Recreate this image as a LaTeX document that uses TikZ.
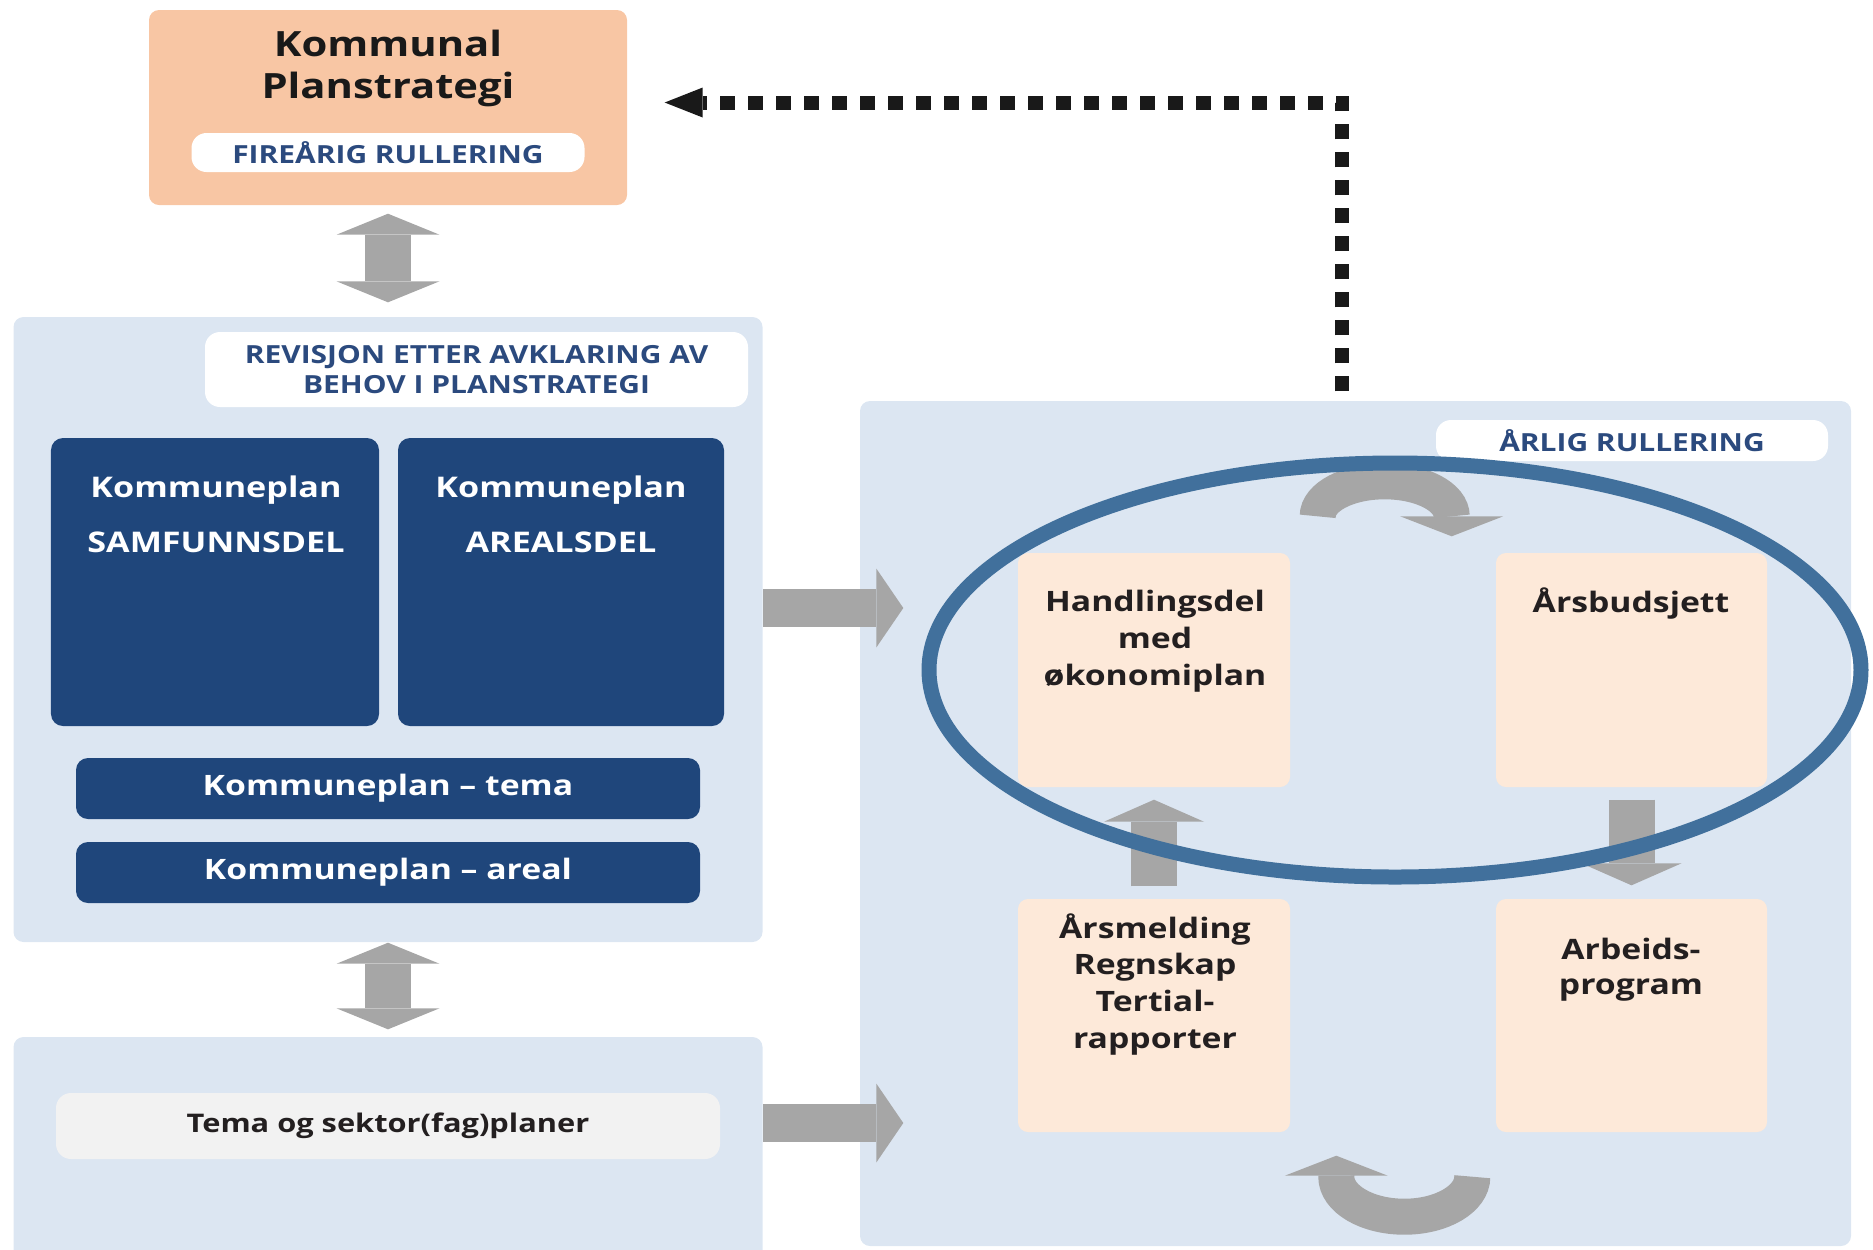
\documentclass[tikz,border=0pt]{standalone}
\usepackage{fontspec}
\setmainfont{Open Sans}[FakeStretch=1.2]
\usetikzlibrary{arrows.meta, shapes.geometric}
\definecolor{paleblue}{HTML}{DCE6F2}
\definecolor{navy}{HTML}{1F467B}
\definecolor{labelblue}{HTML}{2B4A7E}
\definecolor{peach}{HTML}{F8C6A4}
\definecolor{lightpeach}{HTML}{FDE9D9}
\definecolor{arrowgray}{HTML}{A6A6A6}
\definecolor{ringblue}{HTML}{41709C}
\definecolor{pillgray}{HTML}{F2F2F2}
\definecolor{ink}{HTML}{231F20}
\tikzset{%
	sz/.style 2 args = {minimum width = #1cm, minimum height = #2cm},
	outer/.style = {rectangle, fill = paleblue, rounded corners = 1mm, inner sep = 0pt},
	orange/.style = {rectangle, fill = peach, rounded corners = 1mm, inner sep = 0pt},
	dark/.style = {rectangle, fill = navy, rounded corners = 1.2mm, inner sep = 0pt},
	pale/.style = {rectangle, fill = lightpeach, rounded corners = 1mm, inner sep = 0pt},
	pill/.style = {rectangle, fill = white, rounded corners = 1.5mm, inner sep = 0pt, text = labelblue, align = center, font = \bfseries\fontsize{7.1}{8.6}\selectfont},
	plan/.style = {rectangle, fill = pillgray, rounded corners = 1.5mm, inner sep = 0pt, text = ink, font = \bfseries\fontsize{7.3}{9}\selectfont},
	bar/.style = {text = white, font = \bfseries\fontsize{8}{10}\selectfont},
	head/.style = {anchor = base, inner sep = 0pt, align = center, text = black!90, font = \bfseries\fontsize{9.9}{11.7}\selectfont},
	wtxt/.style = {anchor = base, inner sep = 0pt, align = center, text = white, font = \bfseries\fontsize{8.1}{15.6}\selectfont},
	btxt/.style = {anchor = base, inner sep = 0pt, align = center, text = ink, font = \bfseries\fontsize{8}{10.4}\selectfont},
	blk/.style = {draw = arrowgray, line width = 0.46cm, -{Triangle[width = 1cm, length = 0.22cm, line width = 0pt]}},
	dbl/.style = {draw = arrowgray, line width = 0.46cm, {Triangle[width = 1.03cm, length = 0.21cm, line width = 0pt]}-{Triangle[width = 1.03cm, length = 0.21cm, line width = 0pt]}},
	side/.style = {draw = arrowgray, line width = 0.38cm, -{Triangle[width = 0.79cm, length = 0.27cm, line width = 0pt]}},
	curv/.style = {draw = arrowgray, line width = 0.36cm, -{Triangle[width = 1.03cm, length = 0.2cm, line width = 0pt]}},
	dotarr/.style = {draw = black!90, line width = 0.14cm, dash pattern = on 0.15cm off 0.13cm, -{Triangle[width = 0.3cm, length = 0.38cm, line width = 0pt]}},
	oval/.style = {ellipse, draw = ringblue, line width = 0.15cm, inner sep = 0pt}
}
\begin{document}
\begin{tikzpicture}
			\useasboundingbox (0,0) rectangle (18.73,-12.49);
			\clip (0,0) rectangle (18.73,-12.49);
			\node [orange, sz={4.78}{1.95}] (strategi) at (3.88,-1.075) {};
			\node [head] (title) at (3.88,-0.98) {Kommunal\\Planstrategi};
			\node [pill, sz={3.93}{0.39}] (fire) at (3.88,-1.525) {FIREÅRIG RULLERING};
			\node [outer, sz={7.49}{6.25}] (planA) at (3.88,-6.295) {};
			\node [pill, sz={5.43}{0.75}] (revisjon) at (4.765,-3.695) {REVISJON ETTER AVKLARING AV\\BEHOV I PLANSTRATEGI};
			\node [dark, sz={3.28}{2.88}] (samfunn) at (2.15,-5.82) {};
			\node [dark, sz={3.26}{2.88}] (arealdel) at (5.61,-5.82) {};
			\node [wtxt] (samfunntxt) at (2.16,-5.52) {Kommuneplan\\SAMFUNNSDEL};
			\node [wtxt] (arealtxt) at (5.61,-5.52) {Kommuneplan\\AREALSDEL};
			\node [dark, bar, sz={6.24}{0.61}] (tema) at (3.88,-7.885) {Kommuneplan – tema};
			\node [dark, bar, sz={6.24}{0.61}] (areal) at (3.88,-8.725) {Kommuneplan – areal};
			\node [outer, sz={7.49}{2.33}] (planB) at (3.88,-11.535) {};
			\node [plan, sz={6.64}{0.66}] (sektor) at (3.88,-11.26) {Tema og sektor(fag)planer};
			\node [outer, sz={9.91}{8.45}] (arsbox) at (13.555,-8.235) {};
			\node [pill, sz={3.92}{0.41}] (arlig) at (16.32,-4.405) {ÅRLIG RULLERING};
			\node [pale, sz={2.72}{2.34}] (handling) at (11.54,-6.70) {};
			\node [pale, sz={2.71}{2.34}] (budsjett) at (16.315,-6.70) {};
			\node [pale, sz={2.72}{2.33}] (melding) at (11.54,-10.155) {};
			\node [pale, sz={2.71}{2.33}] (arbeid) at (16.315,-10.155) {};
			\node [btxt] (handlingtxt) at (11.55,-6.85) {Handlingsdel\\med\\økonomiplan};
			\node [btxt] (budsjetttxt) at (16.31,-6.12) {Årsbudsjett};
			\node [btxt] (meldingtxt) at (11.55,-10.48) {Årsmelding\\Regnskap\\Tertial-\\rapporter};
			\node [btxt, font = \bfseries\fontsize{8}{9.8}\selectfont] (arbeidtxt) at (16.31,-9.94) {Arbeids-\\program};
			\coordinate (upper) at (0,-6.08);
			\coordinate (lower) at (0,-11.23);
			\coordinate (turn) at (13.42,0);
			\draw [dbl, shorten < = 0.08cm, shorten > = 0.14cm] (strategi.south) -- (planA.north);
			\draw [dbl, shorten > = 0.07cm] (planA.south) -- (planB.north);
			\draw [side, shorten > = -0.44cm] (planA.east |- upper) -- (arsbox.west |- upper);
			\draw [side, shorten > = -0.44cm] (planB.east |- lower) -- (arsbox.west |- lower);
			\draw [blk, shorten < = 0.12cm, shorten > = 0.12cm] (melding.north) -- (handling.south);
			\draw [blk, shorten < = 0.12cm, shorten > = 0.13cm] (budsjett.south) -- (arbeid.north);
			\draw [curv] ([xshift = 0.27cm, yshift = 0.36cm] handling.north east) arc [start angle = 180, end angle = 0, x radius = 0.67cm, y radius = 0.35cm] -- ++(0,-0.2);
			\draw [curv] ([xshift = -0.23cm, yshift = -0.44cm] arbeid.south west) arc [start angle = 0, end angle = -180, x radius = 0.68cm, y radius = 0.4cm] -- ++(0,0.21);
			\node [oval, minimum width = 9.32cm, minimum height = 4.14cm] (ring) at (13.95,-6.70) {};
			\draw [dotarr, shorten < = 0.09cm, shorten > = 0.37cm] (arsbox.north -| turn) |- ([yshift = 0.05cm] strategi.east);
\end{tikzpicture}
\end{document}
